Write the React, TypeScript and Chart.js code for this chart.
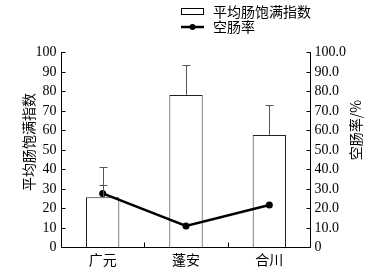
import React, { useEffect, useRef } from "react";
import { Chart, registerables } from "chart.js";

Chart.register(...registerables);

const categories = ["广元", "蓬安", "合川"];
const fullnessIndex = [25.5, 78, 57.5];
const fullnessErrUpper = [41, 93.5, 73];
const emptyRate = [27.5, 10.8, 21.5];
const emptyRateErrUpper = [32, null, null];
const leftTicks = [0, 10, 20, 30, 40, 50, 60, 70, 80, 90, 100];
const rightTicks = [0, 10, 20, 30, 40, 50, 60, 70, 80, 90, 100];
const seriesNames = ["平均肠饱满指数", "空肠率"];
const leftTitle = "平均肠饱满指数";
const rightTitle = "空肠率/%";

const NUM_FONT = "14px 'Liberation Serif', 'Noto Sans CJK SC', serif";
const CJK_FONT = "14px 'Noto Sans CJK SC', 'Liberation Serif', serif";

const decorPlugin = {
  id: "decor",
  afterDatasetsDraw(chart: any) {
    const { ctx, chartArea, scales } = chart;
    const x = scales.x;
    const yl = scales.y;
    const yr = scales.y1;
    ctx.save();
    // error bars for bars
    ctx.strokeStyle = "#555";
    ctx.lineWidth = 1;
    fullnessErrUpper.forEach((v, i) => {
      if (v == null) return;
      const cx = Math.round(x.getPixelForValue(i)) + 0.5;
      const y0 = yl.getPixelForValue(fullnessIndex[i]);
      const y1 = Math.round(yl.getPixelForValue(v)) + 0.5;
      ctx.beginPath();
      ctx.moveTo(cx, y0);
      ctx.lineTo(cx, y1);
      ctx.moveTo(cx - 4, y1);
      ctx.lineTo(cx + 4, y1);
      ctx.stroke();
    });
    emptyRateErrUpper.forEach((v, i) => {
      if (v == null) return;
      const cx = Math.round(x.getPixelForValue(i)) + 0.5;
      const y0 = yr.getPixelForValue(emptyRate[i]);
      const y1 = Math.round(yr.getPixelForValue(v)) + 0.5;
      ctx.beginPath();
      ctx.moveTo(cx, y0);
      ctx.lineTo(cx, y1);
      ctx.moveTo(cx - 4, y1);
      ctx.lineTo(cx + 4, y1);
      ctx.stroke();
    });
    ctx.restore();
  },
  afterDraw(chart: any) {
    const { ctx, chartArea, scales } = chart;
    const x = scales.x;
    const yl = scales.y;
    const yr = scales.y1;
    const L = Math.round(chartArea.left) + 0.5;
    const R = Math.round(chartArea.right) - 0.5;
    const B = Math.round(chartArea.bottom) + 0.5;
    ctx.save();
    ctx.strokeStyle = "#000";
    ctx.lineWidth = 1;
    // axes lines
    ctx.beginPath();
    ctx.moveTo(L, Math.round(yl.getPixelForValue(100)));
    ctx.lineTo(L, B);
    ctx.lineTo(R, B);
    ctx.lineTo(R, Math.round(yr.getPixelForValue(100)));
    ctx.stroke();
    // left ticks (inside)
    ctx.fillStyle = "#000";
    ctx.font = NUM_FONT;
    ctx.textBaseline = "middle";
    ctx.textAlign = "right";
    leftTicks.forEach((t) => {
      const y = Math.round(yl.getPixelForValue(t)) + 0.5;
      ctx.beginPath();
      ctx.moveTo(L, y);
      ctx.lineTo(L + 4, y);
      ctx.stroke();
      ctx.fillText(String(t), L - 5, y);
    });
    ctx.textAlign = "left";
    rightTicks.forEach((t) => {
      const y = Math.round(yr.getPixelForValue(t)) + 0.5;
      ctx.beginPath();
      ctx.moveTo(R, y);
      ctx.lineTo(R - 4, y);
      ctx.stroke();
      ctx.fillText(t === 0 ? "0" : t.toFixed(1), R + 4, y);
    });
    // x ticks at category boundaries
    for (let i = 0; i < categories.length - 1; i++) {
      const bx = Math.round((x.getPixelForValue(i) + x.getPixelForValue(i + 1)) / 2) + 0.5;
      ctx.beginPath();
      ctx.moveTo(bx, B);
      ctx.lineTo(bx, B - 5);
      ctx.stroke();
    }
    ctx.font = CJK_FONT;
    ctx.textAlign = "center";
    categories.forEach((c, i) => {
      ctx.fillText(c, x.getPixelForValue(i), B + 12);
    });
    // axis titles
    ctx.save();
    ctx.translate(29, 142);
    ctx.rotate(-Math.PI / 2);
    ctx.fillText(leftTitle, 0, 0);
    ctx.restore();
    ctx.save();
    ctx.translate(356, 130);
    ctx.rotate(-Math.PI / 2);
    ctx.fillText(rightTitle, 0, 0);
    ctx.restore();
    // legend
    ctx.strokeStyle = "#000";
    ctx.fillStyle = "#fff";
    ctx.fillRect(181.5, 8.5, 22, 6);
    ctx.strokeRect(181.5, 8.5, 22, 6);
    ctx.fillStyle = "#000";
    ctx.textAlign = "left";
    ctx.fillText(seriesNames[0], 213, 12);
    ctx.lineWidth = 2.5;
    ctx.beginPath();
    ctx.moveTo(181, 27);
    ctx.lineTo(204, 27);
    ctx.stroke();
    ctx.beginPath();
    ctx.arc(192.5, 27, 3, 0, Math.PI * 2);
    ctx.fill();
    ctx.fillText(seriesNames[1], 213, 27);
    ctx.restore();
  },
};

export default function App() {
  const ref = useRef<HTMLCanvasElement>(null);
  useEffect(() => {
    if (!ref.current) return;
    const chart = new Chart(ref.current, {
      data: {
        labels: categories,
        datasets: [
          {
            type: "line",
            label: seriesNames[1],
            data: emptyRate,
            yAxisID: "y1",
            borderColor: "#000",
            backgroundColor: "#000",
            borderWidth: 2.5,
            pointRadius: 3.5,
            pointBackgroundColor: "#000",
            pointBorderWidth: 0,
            order: 0,
          } as any,
          {
            type: "bar",
            label: seriesNames[0],
            data: fullnessIndex,
            yAxisID: "y",
            backgroundColor: "#fff",
            borderColor: "#222",
            borderWidth: 1,
            barPercentage: 1,
            categoryPercentage: 0.4,
            order: 1,
          } as any,
        ],
      },
      plugins: [decorPlugin],
      options: {
        responsive: false,
        animation: false,
        layout: { padding: { top: 52, right: 0, left: 0, bottom: 0 } },
        plugins: { legend: { display: false }, tooltip: { enabled: false } },
        scales: {
          x: {
            grid: { display: false },
            border: { display: false },
            ticks: { display: false },
            afterFit: (s: any) => {
              s.height = 33;
            },
          },
          y: {
            position: "left",
            min: 0,
            max: 100,
            grid: { display: false },
            border: { display: false },
            ticks: { display: false, stepSize: 10 },
            afterFit: (s: any) => {
              s.width = 61;
            },
          },
          y1: {
            position: "right",
            min: 0,
            max: 100,
            grid: { display: false },
            border: { display: false },
            ticks: { display: false, stepSize: 10 },
            afterFit: (s: any) => {
              s.width = 75;
            },
          },
        },
      } as any,
    });
    return () => chart.destroy();
  }, []);
  return (
    <div style={{ position: "fixed", left: 0, top: 0, width: 386, height: 280, background: "#fff" }}>
      <canvas ref={ref} width={386} height={280} style={{ width: 386, height: 280, display: "block" }} />
    </div>
  );
}
